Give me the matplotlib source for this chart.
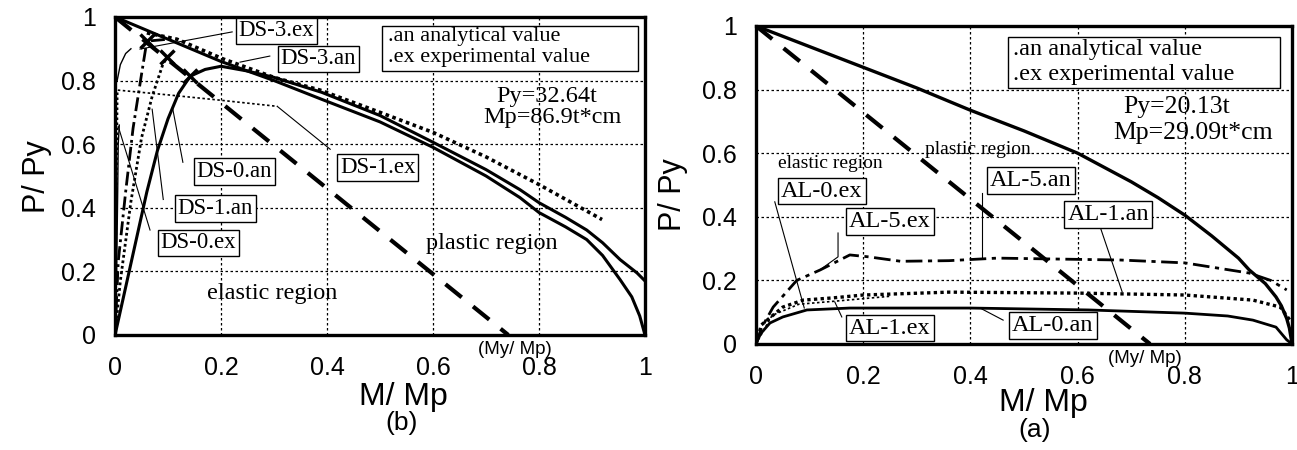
import matplotlib.pyplot as plt
from matplotlib.patches import Rectangle

SERIF = 'Liberation Serif'
SANS = 'Liberation Sans'

# ---------------- panel (b) data ----------------
b_mp_x = [0, 0.1, 0.2, 0.3, 0.39, 0.5, 0.6, 0.7, 0.764, 0.8, 0.85, 0.89, 0.92, 0.953, 0.975, 0.99, 1.0]
b_mp_y = [1.0, 0.93, 0.86, 0.80, 0.741, 0.67, 0.59, 0.50, 0.432, 0.385, 0.34, 0.30, 0.25, 0.174, 0.12, 0.06, 0.0]
ds0_an_x = [0, 0.02, 0.04, 0.06, 0.08, 0.1, 0.12, 0.142, 0.17, 0.2, 0.25, 0.3, 0.39, 0.5, 0.6, 0.7,
            0.764, 0.8, 0.85, 0.89, 0.92, 0.953, 0.985, 1.0]
ds0_an_y = [0, 0.15, 0.3, 0.45, 0.58, 0.68, 0.76, 0.814, 0.835, 0.845, 0.83, 0.81, 0.763, 0.69, 0.606, 0.52,
            0.457, 0.416, 0.37, 0.33, 0.29, 0.237, 0.195, 0.17]
ds1_an_x = [0, 0.01, 0.03, 0.05, 0.07, 0.09, 0.098]
ds1_an_y = [0, 0.17, 0.42, 0.62, 0.75, 0.85, 0.874]
ds3_an_x = [0, 0.006, 0.02, 0.034, 0.05, 0.06, 0.1]
ds3_an_y = [0, 0.23, 0.45, 0.65, 0.82, 0.924, 0.93]
ds3_ex_x = [0.06, 0.117, 0.204, 0.3, 0.387, 0.5, 0.6, 0.7, 0.8, 0.919]
ds3_ex_y = [0.95, 0.93, 0.868, 0.81, 0.77, 0.70, 0.637, 0.56, 0.473, 0.363]
ds3_ex_start_x = [0.004, 0.01, 0.02, 0.03]
ds3_ex_start_y = [0.8, 0.85, 0.885, 0.9]
ds0_ex_x = [0, 0.003, 0.005, 0.006, 0.008]
ds0_ex_y = [0, 0.2, 0.45, 0.6, 0.66]
ds1_ex_x = [0, 0.003, 0.005, 0.1, 0.2, 0.306]
ds1_ex_y = [0, 0.4, 0.77, 0.755, 0.738, 0.719]
b_cross_x = [0.06, 0.098, 0.142]
b_cross_y = [0.924, 0.874, 0.814]
b_my = 0.742

# ---------------- panel (a) data ----------------
a_mp_x = [0, 0.1, 0.2, 0.3, 0.4, 0.5, 0.6, 0.7, 0.75, 0.8, 0.85, 0.9, 0.92, 0.95, 0.97, 0.98, 0.99, 0.995, 1.0]
a_mp_y = [1.0, 0.935, 0.87, 0.805, 0.735, 0.67, 0.60, 0.51, 0.46, 0.405, 0.34, 0.27, 0.233, 0.19, 0.148, 0.12, 0.08, 0.05, 0.0]
al5_x = [0, 0.01, 0.032, 0.076, 0.12, 0.175, 0.21, 0.27, 0.36, 0.45, 0.68, 0.8, 0.92, 0.96, 0.99]
al5_y = [0, 0.05, 0.116, 0.2, 0.233, 0.28, 0.274, 0.26, 0.262, 0.27, 0.264, 0.255, 0.223, 0.2, 0.17]
al1_an_x = [0, 0.01, 0.05, 0.088, 0.144, 0.2, 0.36, 0.6, 0.8, 0.927, 0.978, 0.996]
al1_an_y = [0, 0.06, 0.116, 0.138, 0.145, 0.154, 0.163, 0.16, 0.154, 0.138, 0.116, 0.075]
al1_ex_x = [0, 0.03, 0.08, 0.15, 0.25]
al1_ex_y = [0, 0.09, 0.125, 0.135, 0.15]
al0_x = [0, 0.005, 0.01, 0.026, 0.05, 0.095, 0.175, 0.4, 0.62, 0.8, 0.88, 0.927, 0.97, 0.99, 1.0]
al0_y = [0, 0.02, 0.035, 0.066, 0.085, 0.107, 0.113, 0.113, 0.107, 0.097, 0.088, 0.075, 0.053, 0.013, 0.0]
a_my = 0.735

ticks = [0, 0.2, 0.4, 0.6, 0.8, 1]
tick_labels = ['0', '0.2', '0.4', '0.6', '0.8', '1']

fig = plt.figure(figsize=(12.97, 4.5), dpi=100)
ax_b = fig.add_axes([0.0887, 0.2556, 0.4086, 0.7067])
ax_a = fig.add_axes([0.5829, 0.2356, 0.4133, 0.7067])


def style(ax, pad):
    ax.set_xlim(0, 1)
    ax.set_ylim(0, 1)
    ax.set_xticks(ticks)
    ax.set_yticks(ticks)
    ax.set_xticklabels(tick_labels, fontsize=18, family=SANS)
    ax.set_yticklabels(tick_labels, fontsize=18, family=SANS)
    ax.tick_params(length=0, pad=pad)
    ax.tick_params(axis='x', pad=pad + 1)
    ax.grid(True, color='k', ls=(0, (2, 2)), lw=0.9)
    for s in ax.spines.values():
        s.set_linewidth(2.4)


def label(ax, x, y, s, size):
    ax.text(x, y, s, ha='center', va='center', fontsize=size, family=SERIF,
            bbox=dict(boxstyle='square,pad=0.12', fc='white', ec='black', lw=1), zorder=5)


def leader(ax, xs, ys):
    ax.plot(xs, ys, color='k', lw=0.8, zorder=4)


# ---------------- panel (b) ----------------
ax = ax_b
style(ax, 14)
ax.plot([0, b_my], [1, 0], color='k', lw=3, ls=(0, (5, 3.5)))
ax.plot(b_mp_x, b_mp_y, color='k', lw=2.2)
ax.plot(ds0_an_x, ds0_an_y, color='k', lw=2.2)
ax.plot(ds1_an_x, ds1_an_y, color='k', lw=2, ls=(0, (1, 1)))
ax.plot(ds3_an_x, ds3_an_y, color='k', lw=2, ls=(0, (5, 1.5, 1, 1.5)))
ax.plot(ds3_ex_x, ds3_ex_y, color='k', lw=2.6, ls=(0, (1, 1)))
ax.plot(ds3_ex_start_x, ds3_ex_start_y, color='k', lw=1)
ax.plot(ds0_ex_x, ds0_ex_y, color='k', lw=1)
ax.plot(ds1_ex_x, ds1_ex_y, color='k', lw=1.2, ls=(0, (1.5, 1.5)))
ax.plot(b_cross_x, b_cross_y, ls='none', marker='x', ms=10, mew=2.5, color='k')

leader(ax, [0.221, 0.047], [0.953, 0.899])
leader(ax, [0.292, 0.236], [0.877, 0.858])
leader(ax, [0.128, 0.109], [0.543, 0.71])
leader(ax, [0.091, 0.07], [0.426, 0.71])
leader(ax, [0.066, 0.006], [0.33, 0.656])
leader(ax, [0.406, 0.306], [0.584, 0.719])

label(ax, 0.304, 0.956, 'DS-3.ex', 16.5)
label(ax, 0.383, 0.868, 'DS-3.an', 16.5)
label(ax, 0.496, 0.527, 'DS-1.ex', 16.5)
label(ax, 0.225, 0.514, 'DS-0.an', 16.5)
label(ax, 0.189, 0.397, 'DS-1.an', 16.5)
label(ax, 0.157, 0.290, 'DS-0.ex', 16.5)

ax.add_patch(Rectangle((0.504, 0.830), 0.483, 0.142, fc='white', ec='k', lw=1, zorder=5))
ax.text(0.515, 0.94, '.an analytical value', fontsize=16, family=SERIF, va='center', zorder=6)
ax.text(0.515, 0.874, '.ex experimental value', fontsize=16, family=SERIF, va='center', zorder=6)
ax.text(0.815, 0.751, 'Py=32.64t', fontsize=17.5, family=SERIF, ha='center', va='center')
ax.text(0.826, 0.685, 'Mp=86.9t*cm', fontsize=17.5, family=SERIF, ha='center', va='center')
ax.text(0.711, 0.287, 'plastic region', fontsize=17.5, family=SERIF, ha='center', va='center')
ax.text(0.296, 0.132, 'elastic region', fontsize=17.5, family=SERIF, ha='center', va='center')
ax.text(0.755, -0.047, '(My/ Mp)', fontsize=13.5, family=SANS, ha='center', va='center', clip_on=False)

fig.text(37 / 1297, 1 - 177 / 450, 'P/ Py', fontsize=22, family=SANS, rotation=90, ha='center', va='center')
fig.text(403 / 1297, 1 - 397 / 450, 'M/ Mp', fontsize=23, family=SANS, ha='center', va='center')
fig.text(402 / 1297, 1 - 423 / 450, '(b)', fontsize=19, family=SANS, ha='center', va='center')

# ---------------- panel (a) ----------------
ax = ax_a
style(ax, 14)
ax.plot([0, a_my], [1, 0], color='k', lw=3, ls=(0, (5, 3.5)))
ax.plot(a_mp_x, a_mp_y, color='k', lw=2.4)
ax.plot(al5_x, al5_y, color='k', lw=2, ls=(0, (6, 2, 1.5, 2)))
ax.plot(al1_an_x, al1_an_y, color='k', lw=2.4, ls=(0, (1, 1)))
ax.plot(al1_ex_x, al1_ex_y, color='k', lw=1.2, ls=(0, (1.5, 1.5)))
ax.plot(al0_x, al0_y, color='k', lw=2)

leader(ax, [0.035, 0.09], [0.447, 0.113])
leader(ax, [0.153, 0.153, 0.119], [0.349, 0.274, 0.233])
leader(ax, [0.422, 0.422], [0.475, 0.274])
leader(ax, [0.642, 0.683], [0.368, 0.164])
leader(ax, [0.16, 0.147], [0.085, 0.132])
leader(ax, [0.461, 0.418], [0.075, 0.113])

label(ax, 0.123, 0.481, 'AL-0.ex', 17.5)
label(ax, 0.25, 0.384, 'AL-5.ex', 17.5)
label(ax, 0.513, 0.513, 'AL-5.an', 17.5)
label(ax, 0.657, 0.406, 'AL-1.an', 17.5)
label(ax, 0.25, 0.05, 'AL-1.ex', 17.5)
label(ax, 0.554, 0.057, 'AL-0.an', 17.5)

ax.add_patch(Rectangle((0.470, 0.805), 0.508, 0.160, fc='white', ec='k', lw=1, zorder=5))
ax.text(0.48, 0.925, '.an analytical value', fontsize=17.5, family=SERIF, va='center', zorder=6)
ax.text(0.48, 0.846, '.ex experimental value', fontsize=17.5, family=SERIF, va='center', zorder=6)
ax.text(0.785, 0.745, 'Py=20.13t', fontsize=18.5, family=SERIF, ha='center', va='center')
ax.text(0.815, 0.664, 'Mp=29.09t*cm', fontsize=18.5, family=SERIF, ha='center', va='center')
ax.text(0.414, 0.61, 'plastic region', fontsize=14, family=SERIF, ha='center', va='center')
ax.text(0.138, 0.569, 'elastic region', fontsize=14, family=SERIF, ha='center', va='center')
ax.text(0.726, -0.047, '(My/ Mp)', fontsize=13.5, family=SANS, ha='center', va='center', clip_on=False)

fig.text(673 / 1297, 1 - 195 / 450, 'P/ Py', fontsize=22, family=SANS, rotation=90, ha='center', va='center')
fig.text(1043 / 1297, 1 - 403 / 450, 'M/ Mp', fontsize=23, family=SANS, ha='center', va='center')
fig.text(1035 / 1297, 1 - 430 / 450, '(a)', fontsize=19, family=SANS, ha='center', va='center')

fig.savefig('out.png', dpi=100)
